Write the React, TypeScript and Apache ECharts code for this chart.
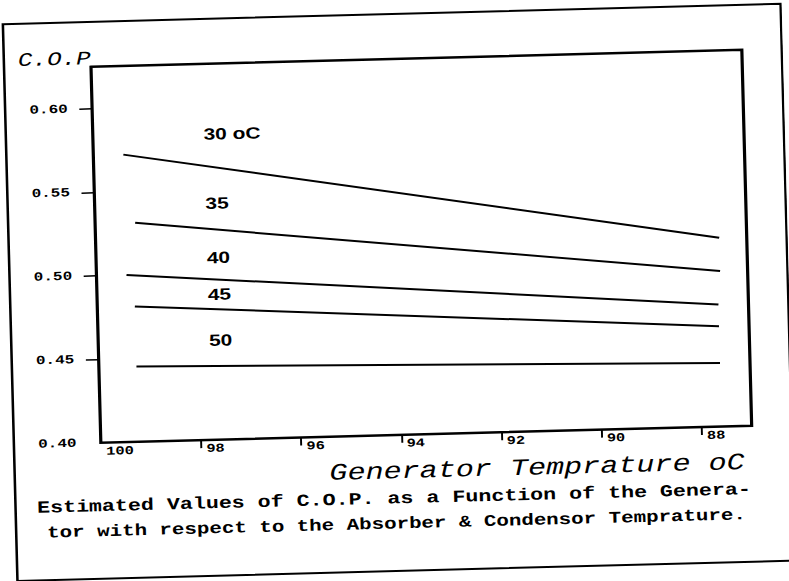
import React, { useEffect, useRef } from "react";
import * as echarts from "echarts";

// ---- data ----
const seriesNames = ["30 oC", "35", "40", "45", "50"];
const startTemp = [99.4, 99.2, 99.4, 99.25, 99.25];
const endTemp = [87.55, 87.55, 87.6, 87.6, 87.6];
const copAtStart = [0.572, 0.531, 0.5, 0.481, 0.445];
const copAtEnd = [0.513, 0.493, 0.473, 0.46, 0.438];

// annotation anchors for the curve labels (data space)
const labelTemp = 97.8;
const labelCop = [0.583, 0.5415, 0.509, 0.487, 0.4596];

const xTickLabels = [100, 98, 96, 94, 92, 90, 88];
const xTickMarks = [98, 96, 94, 92, 90, 88];
const yTickLabels = [0.4, 0.45, 0.5, 0.55, 0.6];
const yTickMarks = [0.45, 0.5, 0.55, 0.6];

const yAxisTitle = "C.O.P";
const xAxisTitle = "Generator Temprature oC";
const captionLine1 = "Estimated Values of C.O.P. as a Function of the Genera-";
const captionLine2 = "tor with respect to the Absorber & Condensor Temprature.";

const INNER_W = 616;
const SX = 789 / INNER_W;

function buildOption() {
  const mono = "'Liberation Mono', 'DejaVu Sans Mono', monospace";
  const series = seriesNames.map((name, i) => ({
    type: "line",
    name,
    data: [
      [startTemp[i], copAtStart[i]],
      [endTemp[i], copAtEnd[i]],
    ],
    showSymbol: false,
    symbol: "none",
    lineStyle: { color: "#000", width: 2 },
    silent: true,
    markPoint: {
      symbol: "circle",
      symbolSize: 1,
      silent: true,
      itemStyle: { color: "rgba(0,0,0,0)" },
      label: {
        show: true,
        position: "right",
        distance: 0,
        formatter: name,
        color: "#000",
        fontFamily: "'Liberation Sans', Arial, sans-serif",
        fontWeight: "bold",
        fontSize: 16.3,
      },
      data: [{ coord: [labelTemp, labelCop[i]] }],
    },
  }));

  return {
    animation: false,
    backgroundColor: "#fff",
    grid: {
      left: 75.7,
      right: 32,
      top: 59,
      bottom: 146,
      show: true,
      borderColor: "#000",
      borderWidth: 2.5,
      backgroundColor: "transparent",
    },
    xAxis: {
      type: "value",
      min: 87,
      max: 100,
      inverse: true,
      axisLine: { show: false },
      splitLine: { show: false },
      axisTick: {
        show: true,
        customValues: xTickMarks,
        length: 8,
        lineStyle: { color: "#000", width: 1.5 },
      },
      axisLabel: {
        customValues: xTickLabels,
        align: "left",
        padding: [0, 0, 0, 4],
        margin: 3,
        color: "#000",
        fontFamily: mono,
        fontWeight: "bold",
        fontSize: 12,
        formatter: (v: number) => String(Math.round(v)),
      },
    },
    yAxis: {
      type: "value",
      min: 0.4,
      max: 0.625,
      name: yAxisTitle,
      nameLocation: "end",
      nameGap: -2,
      nameTextStyle: {
        fontFamily: mono,
        fontStyle: "italic",
        fontSize: 19,
        color: "#000",
        align: "right",
        verticalAlign: "bottom",
      },
      axisLine: { show: false },
      splitLine: { show: false },
      axisTick: {
        show: true,
        customValues: yTickMarks,
        length: 10,
        lineStyle: { color: "#000", width: 1.5 },
      },
      axisLabel: {
        customValues: yTickLabels,
        margin: 19,
        padding: [0, 0, 8, 0],
        color: "#000",
        fontFamily: mono,
        fontWeight: "bold",
        fontSize: 12.5,
        formatter: (v: number) => v.toFixed(2),
      },
    },
    graphic: [
      {
        type: "rect",
        silent: true,
        shape: { x: 7.8, y: 14, width: 607.4, height: 557 },
        style: { fill: "none", stroke: "#000", lineWidth: 2 },
      },
      {
        type: "text",
        silent: true,
        x: 577.8,
        y: 472,
        style: {
          text: xAxisTitle,
          fill: "#000",
          fontFamily: mono,
          fontStyle: "italic",
          fontSize: 23.5,
          align: "right",
          verticalAlign: "middle",
        },
      },
      {
        type: "text",
        silent: true,
        x: 24.6,
        y: 499,
        style: {
          text: captionLine1,
          fill: "#000",
          fontFamily: mono,
          fontWeight: "bold",
          fontSize: 16.9,
          align: "left",
          verticalAlign: "middle",
        },
      },
      {
        type: "text",
        silent: true,
        x: 32,
        y: 524,
        style: {
          text: captionLine2,
          fill: "#000",
          fontFamily: mono,
          fontWeight: "bold",
          fontSize: 16.25,
          align: "left",
          verticalAlign: "middle",
        },
      },
    ],
    series,
  };
}

export default function App() {
  const ref = useRef<HTMLDivElement>(null);
  useEffect(() => {
    if (!ref.current) return;
    const chart = echarts.init(ref.current, null, { renderer: "svg" });
    chart.setOption(buildOption() as any);
    return () => chart.dispose();
  }, []);
  return (
    <div
      style={{
        position: "absolute",
        left: 0,
        top: 0,
        width: 789,
        height: 581,
        overflow: "hidden",
        background: "#fff",
      }}
    >
      <div
        style={{
          width: 789,
          height: 581,
          transform: "rotate(-1.5deg)",
          transformOrigin: "394.5px 290.5px",
        }}
      >
        <div
          ref={ref}
          style={{
            width: INNER_W,
            height: 581,
            transform: `scaleX(${SX})`,
            transformOrigin: "0 0",
          }}
        />
      </div>
    </div>
  );
}
